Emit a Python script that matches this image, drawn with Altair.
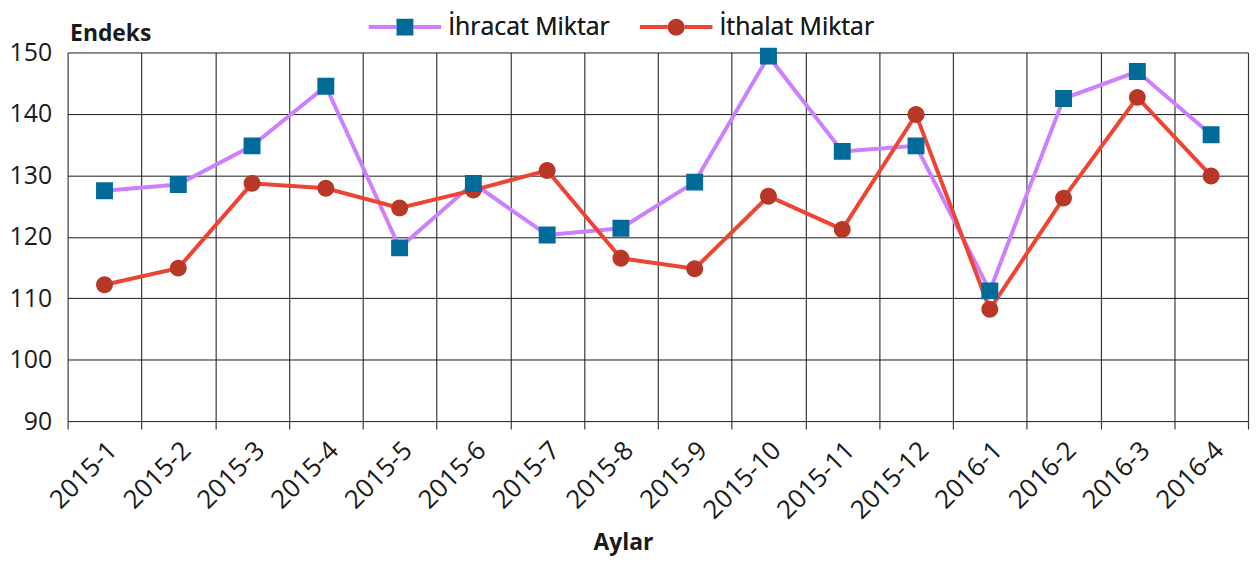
import altair as alt
import pandas as pd

months = ["2015-1", "2015-2", "2015-3", "2015-4", "2015-5", "2015-6", "2015-7", "2015-8",
          "2015-9", "2015-10", "2015-11", "2015-12", "2016-1", "2016-2", "2016-3", "2016-4"]
ihracat = [127.5, 128.5, 134.8, 144.5, 118.2, 128.7, 120.3, 121.4,
           128.9, 149.4, 133.9, 134.8, 111.2, 142.5, 146.9, 136.6]
ithalat = [112.2, 114.9, 128.7, 127.9, 124.7, 127.6, 130.8, 116.5,
           114.8, 126.6, 121.2, 139.9, 108.2, 126.3, 142.7, 129.9]
series_names = ["İhracat Miktar", "İthalat Miktar"]
line_colors = ["#CC80FF", "#EE4433"]
marker_colors = ["#006B99", "#B93727"]

rows = []
for m, a, b in zip(months, ihracat, ithalat):
    rows.append({"ay": m, "deger": a, "seri": series_names[0], "z": 1})
    rows.append({"ay": m, "deger": b, "seri": series_names[1], "z": 0})
df = pd.DataFrame(rows)

FONT = "Open Sans"
SYM = 5329  # 73px legend symbol width
h = 0.233
square_path = f"M-1,0L1,0M-{h},-{h}H{h}V{h}H-{h}Z"
circle_path = f"M-1,0L1,0M-{h},0A{h},{h} 0 1,0 {h},0A{h},{h} 0 1,0 -{h},0Z"
gap_line_path = f"M-1,0L-{h},0M{h},0L1,0"

x_enc = alt.X(
    "ay:N",
    sort=months,
    scale=alt.Scale(type="band", paddingInner=0, paddingOuter=0),
    axis=alt.Axis(
        title="Aylar",
        tickBand="extent",
        grid=True,
        gridColor="#3a3a3a",
        gridWidth=1.2,
        ticks=True,
        tickColor="#3a3a3a",
        tickWidth=1.2,
        tickSize=8,
        domain=False,
        labelAngle=315,
        labelAlign="right",
        labelBaseline="middle",
        labelPadding=17,
        labelOffset=8,
        labelFont=FONT,
        labelFontSize=26,
        labelColor="#1a1a1a",
        titleFont=FONT,
        titleFontSize=23,
        titleFontWeight="bold",
        titleColor="#1a1a1a",
        titleX=559,
        titleY=129,
        titleAlign="center",
        titleBaseline="alphabetic",
    ),
)
y_enc = alt.Y(
    "deger:Q",
    scale=alt.Scale(domain=[90, 150], nice=False, zero=False),
    axis=alt.Axis(
        title="Endeks",
        values=[90, 100, 110, 120, 130, 140, 150],
        grid=True,
        gridColor="#1a1a1a",
        gridWidth=1,
        ticks=False,
        domain=False,
        labelPadding=16,
        labelFont=FONT,
        labelFontSize=25,
        labelColor="#1a1a1a",
        titleFont=FONT,
        titleFontSize=23,
        titleFontWeight="bold",
        titleColor="#1a1a1a",
        titleAngle=0,
        titleX=2,
        titleY=-12,
        titleAlign="left",
        titleBaseline="alphabetic",
    ),
)

legend_common = dict(
    title=None,
    orient="none",
    direction="horizontal",
    legendX=301,
    legendY=-64.5,
    padding=0,
    symbolSize=SYM,
    symbolStrokeWidth=4,
    labelOffset=5,
    labelLimit=400,
    columnPadding=22,
    labelFont=FONT,
    labelFontSize=25,
    labelColor="#1a1a1a",
)

# stroke scale domain comes from the data (sorted), so its legend stays separate
lines = alt.Chart(df).mark_line(strokeWidth=4).encode(
    x=x_enc,
    y=y_enc,
    stroke=alt.Stroke(
        "seri:N",
        sort="ascending",
        scale=alt.Scale(range=line_colors),
        legend=alt.Legend(symbolType=gap_line_path, zindex=0, **legend_common),
    ),
)

points = alt.Chart(df).mark_point(filled=True, size=SYM, opacity=1).encode(
    x=x_enc,
    y=y_enc,
    fill=alt.Fill(
        "seri:N",
        scale=alt.Scale(domain=series_names, range=marker_colors),
        legend=alt.Legend(symbolStrokeColor="transparent", zindex=1, **legend_common),
    ),
    shape=alt.Shape(
        "seri:N",
        scale=alt.Scale(domain=series_names, range=[square_path, circle_path]),
        legend=alt.Legend(symbolStrokeColor="transparent", zindex=1, **legend_common),
    ),
    order=alt.Order("z:Q"),
)

chart = alt.layer(lines, points).properties(
    width=1188,
    height=371,
    autosize=alt.AutoSizeParams(type="none"),
    padding={"left": 60, "top": 43, "right": 2, "bottom": 134},
    background="white",
).configure_view(stroke="transparent")

chart.save("out.html", embed_options={"renderer": "svg", "actions": False})
